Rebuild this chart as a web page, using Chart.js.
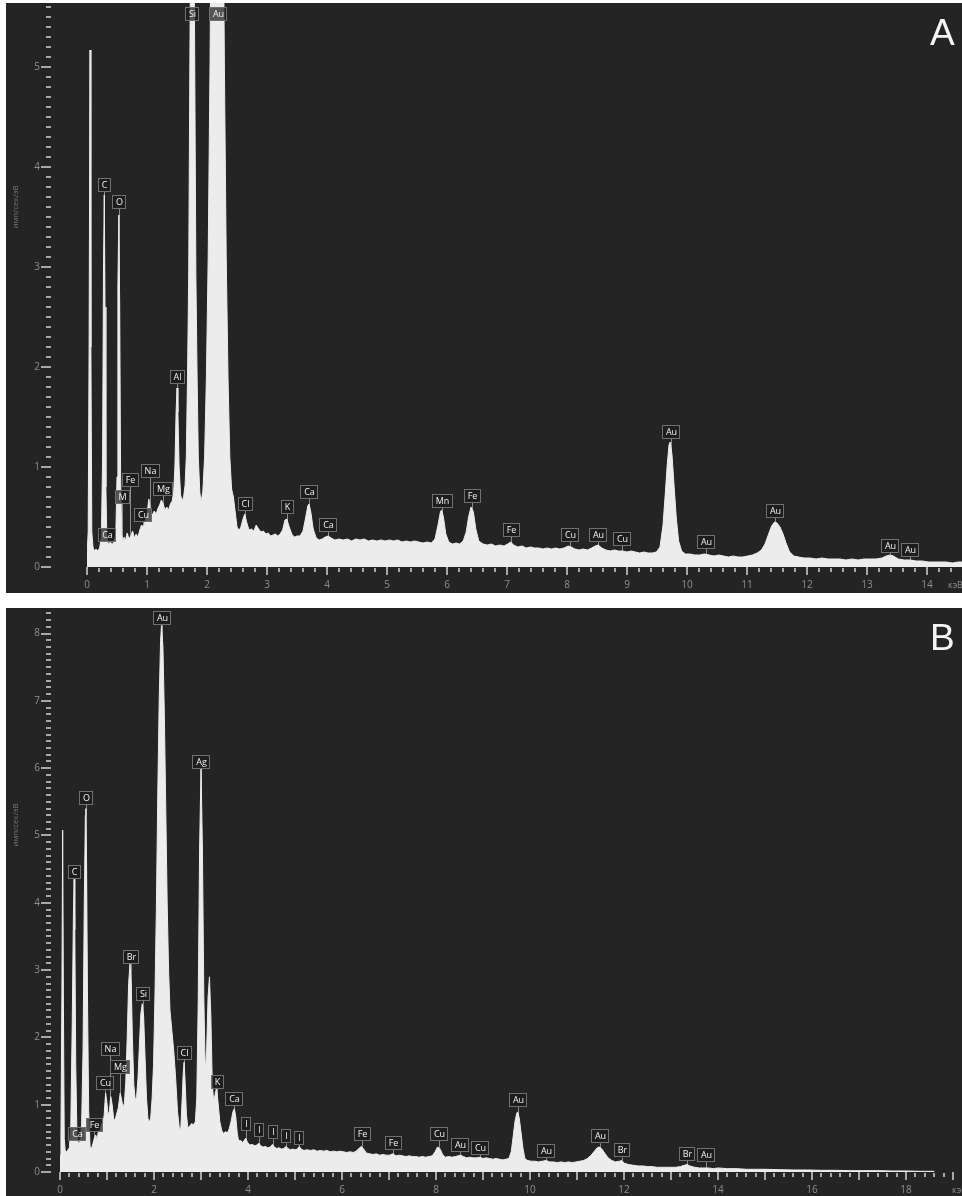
<!DOCTYPE html>
<html>
<head>
<meta charset="utf-8">
<script src="https://cdn.jsdelivr.net/npm/chart.js@4.4.1/dist/chart.umd.min.js"></script>
<style>
  html, body { margin: 0; padding: 0; background: #fff; }
  body { width: 962px; height: 1196px; position: relative; overflow: hidden; }
  canvas { position: absolute; left: 6px; background: #242424; }
  #chartA { top: 3px; }
  #chartB { top: 608px; }
</style>
</head>
<body>
<canvas id="chartA" width="956" height="590"></canvas>
<canvas id="chartB" width="956" height="588"></canvas>
<script>
// EDS spectra: [energy keV, counts imp/sec/eV]
const spectrumA = [
  [0.00,0.12],[0.02,0.35],[0.035,2.2],[0.05,5.17],[0.065,2.2],[0.08,0.35],[0.10,0.2],[0.12,0.16],[0.15,0.18],[0.18,0.16],
  [0.21,0.19],[0.24,0.3],[0.26,1.1],[0.275,3.0],[0.288,3.72],[0.30,2.6],[0.315,0.8],[0.33,0.3],[0.36,0.22],[0.39,0.25],
  [0.42,0.22],[0.45,0.26],[0.48,0.32],[0.50,0.9],[0.515,2.8],[0.53,3.52],[0.545,2.6],[0.56,0.9],[0.58,0.32],[0.60,0.25],
  [0.62,0.3],[0.64,0.26],[0.67,0.34],[0.70,0.28],[0.73,0.31],[0.76,0.36],[0.79,0.29],[0.82,0.33],[0.85,0.3],[0.88,0.37],
  [0.91,0.42],[0.94,0.4],[0.97,0.46],[1.00,0.52],[1.03,0.68],[1.06,0.56],[1.09,0.52],[1.12,0.56],[1.15,0.53],[1.18,0.58],
  [1.21,0.62],[1.24,0.67],[1.27,0.63],[1.30,0.57],[1.33,0.6],[1.36,0.57],[1.39,0.63],[1.42,0.66],[1.445,0.75],[1.465,1.0],
  [1.485,1.55],[1.50,1.79],[1.515,1.55],[1.535,1.0],[1.56,0.72],[1.585,0.66],[1.61,0.7],[1.635,0.82],[1.655,1.1],[1.675,1.9],
  [1.695,2.9],[1.715,5.1],[1.735,7.1],[1.755,8.0],[1.775,7.1],[1.795,5.1],[1.815,2.9],[1.835,1.9],[1.855,1.1],[1.88,0.75],
  [1.90,0.65],[1.93,0.75],[1.96,1.1],[1.99,1.9],[2.02,3.1],[2.05,5.0],[2.08,7.5],[2.11,10.0],[2.14,11.9],[2.17,12.6],
  [2.20,11.9],[2.23,10.0],[2.26,7.5],[2.29,5.0],[2.32,3.1],[2.35,1.9],[2.38,1.1],[2.41,0.78],[2.44,0.7],[2.47,0.55],
  [2.50,0.4],[2.53,0.37],[2.56,0.39],[2.60,0.48],[2.63,0.53],[2.66,0.45],[2.70,0.37],[2.74,0.38],[2.78,0.36],[2.82,0.42],
  [2.86,0.38],[2.90,0.35],[2.94,0.36],[2.98,0.33],[3.02,0.34],[3.06,0.31],[3.10,0.32],[3.14,0.33],[3.18,0.31],[3.22,0.33],
  [3.26,0.37],[3.30,0.47],[3.33,0.48],[3.37,0.4],[3.42,0.32],[3.46,0.3],[3.50,0.31],[3.55,0.31],[3.60,0.36],[3.64,0.48],
  [3.68,0.61],[3.70,0.63],[3.73,0.55],[3.77,0.38],[3.82,0.29],[3.87,0.27],[3.92,0.28],[3.97,0.3],[4.02,0.31],[4.07,0.29],
  [4.13,0.27],[4.20,0.28],[4.27,0.27],[4.34,0.28],[4.41,0.26],[4.48,0.28],[4.55,0.27],[4.62,0.28],[4.69,0.26],[4.76,0.27],
  [4.83,0.26],[4.90,0.27],[4.97,0.26],[5.04,0.27],[5.11,0.26],[5.18,0.27],[5.25,0.25],[5.32,0.26],[5.39,0.25],[5.46,0.26],
  [5.53,0.25],[5.60,0.24],[5.67,0.25],[5.74,0.24],[5.80,0.28],[5.85,0.42],[5.89,0.55],[5.91,0.57],[5.94,0.5],[5.98,0.33],
  [6.03,0.25],[6.09,0.23],[6.15,0.24],[6.21,0.23],[6.27,0.26],[6.32,0.35],[6.36,0.5],[6.40,0.6],[6.44,0.55],[6.48,0.38],
  [6.53,0.26],[6.60,0.23],[6.67,0.22],[6.74,0.23],[6.81,0.21],[6.88,0.22],[6.95,0.21],[7.01,0.23],[7.06,0.25],[7.11,0.22],
  [7.18,0.2],[7.25,0.21],[7.32,0.19],[7.39,0.2],[7.46,0.19],[7.53,0.19],[7.60,0.18],[7.67,0.19],[7.74,0.18],[7.81,0.19],
  [7.88,0.18],[7.95,0.19],[8.02,0.21],[8.07,0.2],[8.13,0.18],[8.20,0.17],[8.27,0.18],[8.34,0.17],[8.41,0.19],[8.47,0.21],
  [8.52,0.22],[8.58,0.19],[8.65,0.17],[8.72,0.16],[8.79,0.17],[8.86,0.16],[8.93,0.16],[9.00,0.15],[9.07,0.16],[9.14,0.15],
  [9.21,0.14],[9.28,0.15],[9.35,0.14],[9.42,0.14],[9.49,0.15],[9.55,0.2],[9.60,0.42],[9.64,0.75],[9.67,1.02],[9.70,1.22],
  [9.72,1.25],[9.75,1.12],[9.78,0.85],[9.82,0.5],[9.86,0.26],[9.91,0.16],[9.97,0.13],[10.05,0.13],[10.13,0.12],[10.21,0.12],
  [10.29,0.13],[10.37,0.12],[10.45,0.11],[10.53,0.12],[10.61,0.11],[10.69,0.1],[10.77,0.11],[10.85,0.1],[10.93,0.1],[11.01,0.11],
  [11.09,0.12],[11.17,0.14],[11.24,0.17],[11.30,0.23],[11.36,0.33],[11.41,0.41],[11.46,0.45],[11.50,0.44],[11.55,0.4],[11.60,0.33],
  [11.65,0.24],[11.71,0.15],[11.78,0.11],[11.86,0.1],[11.95,0.09],[12.05,0.09],[12.15,0.08],[12.25,0.09],[12.35,0.08],[12.45,0.08],
  [12.55,0.08],[12.65,0.07],[12.75,0.08],[12.85,0.07],[12.95,0.08],[13.05,0.08],[13.15,0.08],[13.25,0.09],[13.32,0.11],[13.38,0.12],
  [13.44,0.11],[13.52,0.08],[13.62,0.07],[13.72,0.07],[13.82,0.06],[13.92,0.06],[14.02,0.05],[14.12,0.05],[14.22,0.05],[14.32,0.05],
  [14.42,0.04],[14.52,0.05],[14.60,0.05]
];

const spectrumB = [
  [0.00,0.25],[0.02,0.55],[0.04,2.6],[0.057,5.08],[0.072,2.6],[0.09,0.5],[0.11,0.32],[0.14,0.3],[0.17,0.33],[0.20,0.36],
  [0.23,0.7],[0.26,2.2],[0.285,3.8],[0.30,4.35],[0.315,3.6],[0.335,1.6],[0.36,0.55],[0.39,0.42],[0.42,0.45],[0.46,0.7],
  [0.49,1.8],[0.515,3.9],[0.54,5.3],[0.55,5.4],[0.565,4.6],[0.585,2.6],[0.61,0.9],[0.64,0.38],[0.67,0.35],[0.70,0.42],
  [0.73,0.5],[0.76,0.55],[0.79,0.48],[0.82,0.62],[0.85,0.58],[0.88,0.72],[0.91,0.68],[0.94,0.85],[0.97,1.17],[0.995,1.05],
  [1.02,0.85],[1.05,0.9],[1.08,1.12],[1.11,1.0],[1.14,0.8],[1.17,0.76],[1.20,0.85],[1.24,0.95],[1.28,1.17],[1.31,1.08],
  [1.34,0.96],[1.37,1.02],[1.40,1.35],[1.43,2.0],[1.46,2.8],[1.49,3.1],[1.515,2.8],[1.54,2.0],[1.57,1.3],[1.60,1.07],
  [1.63,1.12],[1.66,1.4],[1.69,1.9],[1.72,2.35],[1.75,2.5],[1.78,2.3],[1.81,1.7],[1.84,1.1],[1.87,0.8],[1.90,0.74],
  [1.93,0.8],[1.96,1.1],[1.99,1.6],[2.02,2.6],[2.05,3.9],[2.08,5.6],[2.11,7.0],[2.14,7.9],[2.16,8.12],[2.19,7.8],
  [2.22,6.8],[2.25,5.4],[2.28,4.0],[2.31,3.0],[2.34,2.4],[2.38,2.1],[2.42,1.8],[2.46,1.4],[2.50,0.9],[2.54,0.64],
  [2.57,0.65],[2.60,1.1],[2.62,1.45],[2.64,1.63],[2.665,1.3],[2.69,0.85],[2.72,0.66],[2.76,0.68],[2.80,0.72],[2.84,0.7],
  [2.88,0.75],[2.91,1.1],[2.94,2.5],[2.97,4.8],[3.00,6.0],[3.03,4.8],[3.06,2.6],[3.09,1.5],[3.12,1.8],[3.15,2.6],
  [3.18,2.9],[3.21,2.3],[3.24,1.3],[3.27,1.05],[3.30,1.15],[3.33,1.25],[3.36,1.05],[3.40,0.75],[3.44,0.62],[3.48,0.57],
  [3.52,0.6],[3.56,0.58],[3.60,0.64],[3.64,0.75],[3.68,0.9],[3.71,0.94],[3.74,0.82],[3.77,0.58],[3.80,0.46],[3.84,0.47],
  [3.88,0.44],[3.92,0.47],[3.95,0.5],[3.99,0.44],[4.04,0.4],[4.09,0.41],[4.14,0.39],[4.19,0.4],[4.23,0.43],[4.27,0.39],
  [4.32,0.37],[4.37,0.38],[4.42,0.36],[4.47,0.37],[4.52,0.41],[4.56,0.37],[4.61,0.35],[4.66,0.36],[4.71,0.34],[4.76,0.35],
  [4.81,0.38],[4.85,0.35],[4.90,0.33],[4.95,0.34],[5.00,0.33],[5.05,0.34],[5.09,0.38],[5.13,0.34],[5.19,0.32],[5.26,0.33],
  [5.33,0.32],[5.40,0.33],[5.47,0.31],[5.54,0.32],[5.61,0.31],[5.68,0.32],[5.75,0.3],[5.82,0.31],[5.89,0.3],[5.96,0.31],
  [6.03,0.3],[6.10,0.29],[6.17,0.3],[6.24,0.29],[6.30,0.31],[6.36,0.35],[6.41,0.38],[6.46,0.34],[6.52,0.28],[6.59,0.27],
  [6.66,0.26],[6.73,0.27],[6.80,0.25],[6.87,0.26],[6.94,0.25],[7.01,0.25],[7.08,0.27],[7.15,0.24],[7.22,0.25],[7.29,0.24],
  [7.36,0.23],[7.43,0.24],[7.50,0.23],[7.57,0.23],[7.64,0.22],[7.71,0.23],[7.78,0.22],[7.85,0.23],[7.92,0.24],[7.98,0.3],
  [8.03,0.37],[8.08,0.35],[8.14,0.26],[8.20,0.22],[8.27,0.23],[8.34,0.22],[8.41,0.23],[8.47,0.24],[8.52,0.25],[8.58,0.23],
  [8.65,0.21],[8.72,0.22],[8.79,0.21],[8.86,0.21],[8.93,0.22],[9.00,0.2],[9.07,0.21],[9.14,0.2],[9.21,0.19],[9.28,0.2],
  [9.35,0.19],[9.42,0.18],[9.49,0.19],[9.55,0.2],[9.60,0.3],[9.64,0.52],[9.68,0.75],[9.72,0.88],[9.74,0.89],[9.77,0.8],
  [9.81,0.58],[9.85,0.35],[9.89,0.2],[9.95,0.17],[10.02,0.16],[10.10,0.16],[10.18,0.15],[10.26,0.16],[10.34,0.17],[10.42,0.15],
  [10.50,0.15],[10.58,0.14],[10.66,0.15],[10.74,0.14],[10.82,0.15],[10.90,0.14],[10.98,0.15],[11.06,0.16],[11.14,0.17],[11.22,0.2],
  [11.30,0.25],[11.37,0.31],[11.43,0.36],[11.48,0.37],[11.53,0.34],[11.59,0.28],[11.66,0.21],[11.74,0.17],[11.82,0.15],[11.90,0.16],
  [11.95,0.17],[12.01,0.13],[12.10,0.11],[12.20,0.1],[12.30,0.09],[12.40,0.09],[12.50,0.08],[12.60,0.08],[12.70,0.07],[12.80,0.07],
  [12.90,0.07],[13.00,0.07],[13.10,0.07],[13.20,0.08],[13.28,0.1],[13.34,0.11],[13.40,0.09],[13.50,0.07],[13.60,0.06],[13.70,0.06],
  [13.80,0.06],[13.90,0.05],[14.00,0.06],[14.20,0.05],[14.40,0.05],[14.60,0.04],[14.80,0.04],[15.00,0.04],[15.30,0.035],[15.60,0.03],
  [15.90,0.03],[16.20,0.025],[16.50,0.025],[16.80,0.02],[17.10,0.02],[17.40,0.02],[17.70,0.015],[18.00,0.015],[18.30,0.01],[18.60,0.01]
];

// peak markers: element, energy (keV), height of the tag (imp/sec/eV)
const tagNamesA  = ['Si','Au','C','O','Al','Fe','Na','M','Mg','Cu','Ca','Cl','K','Ca','Ca','Mn','Fe','Fe','Cu','Au','Cu','Au','Au','Au','Au','Au'];
const tagEnergyA = [1.755,2.19,0.288,0.53,1.495,0.717,1.05,0.578,1.262,0.938,0.328,2.633,3.328,3.705,4.022,5.912,6.422,7.067,8.055,8.512,8.92,9.73,10.32,11.467,13.39,13.72];
const tagHeightA = [5.53,5.53,3.82,3.65,1.9,0.87,0.96,0.70,0.78,0.52,0.32,0.63,0.6,0.75,0.42,0.66,0.71,0.37,0.32,0.32,0.28,1.35,0.25,0.56,0.21,0.17];

const tagNamesB  = ['Au','Ag','O','C','Br','Si','Na','Mg','Cu','Cl','K','Ca','Fe','Ca','I','I','I','I','I','Fe','Fe','Cu','Au','Cu','Au','Au','Au','Br','Br','Au'];
const tagEnergyB = [2.16,3.0,0.55,0.30,1.50,1.77,1.06,1.28,0.96,2.64,3.33,3.71,0.73,0.355,3.95,4.23,4.53,4.81,5.09,6.43,7.08,8.07,8.52,8.94,9.74,10.34,11.49,11.96,13.33,13.75];
const tagHeightB = [8.23,6.09,5.56,4.46,3.19,2.65,1.83,1.56,1.32,1.77,1.34,1.09,0.70,0.57,0.72,0.62,0.59,0.53,0.51,0.57,0.43,0.57,0.40,0.36,1.07,0.31,0.53,0.32,0.27,0.25];

const yTitle = 'имп/сек/эВ';
const xUnit = 'кэВ';

const isInt = v => Math.abs(v - Math.round(v)) < 1e-6;

// element tags: leader line under the spectrum, box on top of it
const tagPlugin = (names, energy, height) => ({
  id: 'tags',
  beforeDatasetsDraw(chart) {
    const { ctx, chartArea, scales: { x, y } } = chart;
    ctx.save();
    ctx.beginPath();
    ctx.rect(chartArea.left, chartArea.top, chartArea.width, chartArea.height);
    ctx.clip();
    ctx.strokeStyle = '#8c8c8c';
    ctx.lineWidth = 1;
    names.forEach((n, i) => {
      const px = Math.round(x.getPixelForValue(energy[i])) + 0.5;
      const py = y.getPixelForValue(height[i]);
      ctx.beginPath();
      ctx.moveTo(px, py + 7);
      ctx.lineTo(px, y.getPixelForValue(0));
      ctx.stroke();
    });
    ctx.restore();
  },
  afterDatasetsDraw(chart) {
    const { ctx, scales: { x, y } } = chart;
    ctx.save();
    ctx.font = '9px "Open Sans"';
    ctx.textAlign = 'center';
    ctx.textBaseline = 'middle';
    names.forEach((n, i) => {
      const px = Math.round(x.getPixelForValue(energy[i]));
      const py = Math.round(y.getPixelForValue(height[i]));
      const w = Math.round(ctx.measureText(n).width) + 7;
      const h = 14;
      const bx = Math.round(px - w / 2), by = py - 7;
      ctx.fillStyle = 'rgba(26,26,26,0.72)';
      ctx.fillRect(bx, by, w, h);
      ctx.strokeStyle = '#707070';
      ctx.lineWidth = 1;
      ctx.strokeRect(bx + 0.5, by + 0.5, w - 1, h - 1);
      ctx.fillStyle = '#f0f0f0';
      ctx.fillText(n, px + 0.5, py + 0.5);
    });
    ctx.restore();
  }
});

// tick marks, tick labels, axis titles and panel letter
const axisPlugin = (letter, xLabelEvery, yTitleY, unitX) => ({
  id: 'axisMarks',
  afterDraw(chart) {
    const { ctx, scales: { x, y } } = chart;
    const base = Math.round(y.getPixelForValue(0));
    ctx.save();
    ctx.fillStyle = '#a8a8a8';
    y.ticks.forEach(t => {
      const py = Math.round(y.getPixelForValue(t.value));
      if (isInt(t.value)) ctx.fillRect(35, py - 1, 10, 2);
      else ctx.fillRect(40, py - 1, 5, 2);
    });
    x.ticks.forEach(t => {
      const px = Math.round(x.getPixelForValue(t.value));
      if (isInt(t.value)) ctx.fillRect(px - 1, base, 2, 8);
      else ctx.fillRect(px - 1, base + 1, 2, 4);
    });
    ctx.fillStyle = '#8e8e8e';
    ctx.font = '10px "Open Sans"';
    ctx.textBaseline = 'middle';
    ctx.textAlign = 'right';
    y.ticks.forEach(t => {
      if (isInt(t.value)) ctx.fillText(String(Math.round(t.value)), 34, y.getPixelForValue(t.value));
    });
    ctx.textAlign = 'center';
    x.ticks.forEach(t => {
      const v = Math.round(t.value);
      if (isInt(t.value) && v % xLabelEvery === 0) ctx.fillText(String(v), x.getPixelForValue(t.value), base + 18);
    });
    ctx.textAlign = 'left';
    ctx.font = '9px "Open Sans"';
    ctx.fillText(xUnit, unitX, base + 18);
    ctx.save();
    ctx.translate(10, yTitleY);
    ctx.rotate(-Math.PI / 2);
    ctx.textAlign = 'center';
    ctx.fillStyle = '#747474';
    ctx.font = '8px "Open Sans"';
    ctx.fillText(yTitle, 0, 0);
    ctx.restore();
    ctx.fillStyle = '#f4f4f4';
    ctx.font = '37px "Liberation Sans"';
    ctx.textBaseline = 'alphabetic';
    ctx.fillText(letter, 924, 42);
    ctx.restore();
  }
});

function makeSpectrum(id, spectrum, xMax, yMax, axisWidth, axisHeight, tags, axis) {
  return new Chart(document.getElementById(id), {
    type: 'line',
    data: {
      datasets: [{
        data: spectrum.map(p => ({ x: p[0], y: p[1] })),
        borderColor: '#ececec',
        backgroundColor: '#ececec',
        borderWidth: 1,
        pointRadius: 0,
        tension: 0,
        fill: 'origin'
      }]
    },
    options: {
      responsive: false,
      animation: false,
      events: [],
      layout: { padding: 0 },
      plugins: { legend: { display: false }, tooltip: { enabled: false } },
      scales: {
        x: {
          type: 'linear', min: 0, max: xMax,
          ticks: { display: false, stepSize: 0.2, includeBounds: false },
          grid: { display: false }, border: { display: false },
          afterFit: s => { s.height = axisHeight; }
        },
        y: {
          type: 'linear', min: 0, max: yMax,
          ticks: { display: false, stepSize: 0.1, includeBounds: false },
          grid: { display: false }, border: { display: false },
          afterFit: s => { s.width = axisWidth; }
        }
      }
    },
    plugins: [tags, axis]
  });
}

makeSpectrum('chartA', spectrumA, 14.583, 5.64, 81, 26,
  tagPlugin(tagNamesA, tagEnergyA, tagHeightA), axisPlugin('A', 1, 204, 942));
makeSpectrum('chartB', spectrumB, 19.19, 8.38, 54, 24,
  tagPlugin(tagNamesB, tagEnergyB, tagHeightB), axisPlugin('B', 2, 217, 946));
</script>
</body>
</html>
